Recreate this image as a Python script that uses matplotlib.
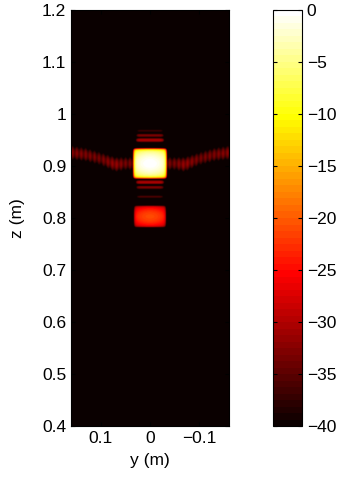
import numpy as np
import matplotlib.pyplot as plt

plt.rcParams['font.family'] = ['Liberation Sans', 'DejaVu Sans']
plt.rcParams['font.size'] = 12.5

# ----------------------------- DATA ------------------------------------------

# image extent (m)
y_limits = [0.16, -0.16]
z_limits = [0.4, 1.2]

# bright rectangular returns: centre z, half height, half width, peak level (dB)
blob_z = [0.905, 0.803]
blob_halfh = [0.030, 0.023]
blob_halfw = [0.035, 0.035]
blob_db = [0.0, -21.0]

# thin horizontal fringes next to the main return
stripe_z = [0.968, 0.959, 0.950, 0.869, 0.859, 0.841]
stripe_db = [-37.0, -33.0, -30.0, -30.0, -33.0, -36.0]

# side-lobe band: y position, centre z, level (dB)
lobe_y = [0.16, 0.13, 0.10, 0.07, 0.05, -0.05, -0.07, -0.10, -0.13, -0.16]
lobe_z = [0.926, 0.922, 0.914, 0.903, 0.905, 0.905, 0.903, 0.914, 0.922, 0.926]
lobe_db = [-32.0, -32.5, -33.0, -31.0, -33.0, -33.0, -31.0, -33.0, -32.5, -32.0]

# colour scale
db_ticks = [0, -5, -10, -15, -20, -25, -30, -35, -40]

# ----------------------------- BUILD IMAGE -----------------------------------

ny, nz = 320, 800
yy = np.linspace(y_limits[0], y_limits[1], ny)
zz = np.linspace(z_limits[0], z_limits[1], nz)
Y, Z = np.meshgrid(yy, zz)
img = np.full(Y.shape, -45.0)

for zc, hh, hw, pk in zip(blob_z, blob_halfh, blob_halfw, blob_db):
    rz = np.abs(Z - zc) / hh
    ry = np.abs(Y) / hw
    level = pk - 8 * rz ** 2 - 30 * rz ** 14 - 4 * ry ** 2 - 30 * ry ** 16
    img = np.maximum(img, level)

for zc, pk in zip(stripe_z, stripe_db):
    rz = np.abs(Z - zc) / 0.004
    ry = np.abs(Y) / 0.032
    level = pk - 8 * rz ** 2 - 30 * ry ** 12
    img = np.maximum(img, level)

lobe_center = np.interp(-Y, -np.array(lobe_y), lobe_z)
lobe_level = np.interp(-Y, -np.array(lobe_y), lobe_db)
ripple = 3.0 * np.cos(2 * np.pi * Y / 0.018) ** 2
rz = np.abs(Z - lobe_center) / 0.016
level = lobe_level - ripple - 10 * rz ** 2
img = np.maximum(img, level)

# ----------------------------- PLOT ------------------------------------------

fig = plt.figure(figsize=(3.41, 4.84), dpi=100)
ax = fig.add_axes([71 / 341, 58 / 484, 158 / 341, 416 / 484])
cax = fig.add_axes([273 / 341, 58 / 484, 29 / 341, 416 / 484])

im = ax.imshow(img, origin='lower', aspect='auto',
               extent=[y_limits[0], y_limits[1], z_limits[0], z_limits[1]],
               cmap=plt.get_cmap('hot', 64), vmin=-40, vmax=0,
               interpolation='bilinear')

ax.set_xlim(y_limits)
ax.set_ylim(z_limits)
ax.set_xticks([0.1, 0, -0.1])
ax.set_xticklabels(['0.1', '0', '\u22120.1'])
ax.set_yticks(np.arange(0.4, 1.21, 0.1))
ax.set_yticklabels(['0.4', '0.5', '0.6', '0.7', '0.8', '0.9', '1', '1.1', '1.2'])
ax.tick_params(direction='in', length=3, top=True, right=True, color='k')
ax.set_xlabel('y (m)', labelpad=5)
ax.set_ylabel('z (m)', labelpad=12)

cb = fig.colorbar(im, cax=cax)
cb.set_ticks(db_ticks)
cb.set_ticklabels(['0'] + ['\u2212%d' % abs(t) for t in db_ticks[1:]])
cax.tick_params(direction='in', length=3, left=True)

fig.savefig('out.png', dpi=100)
